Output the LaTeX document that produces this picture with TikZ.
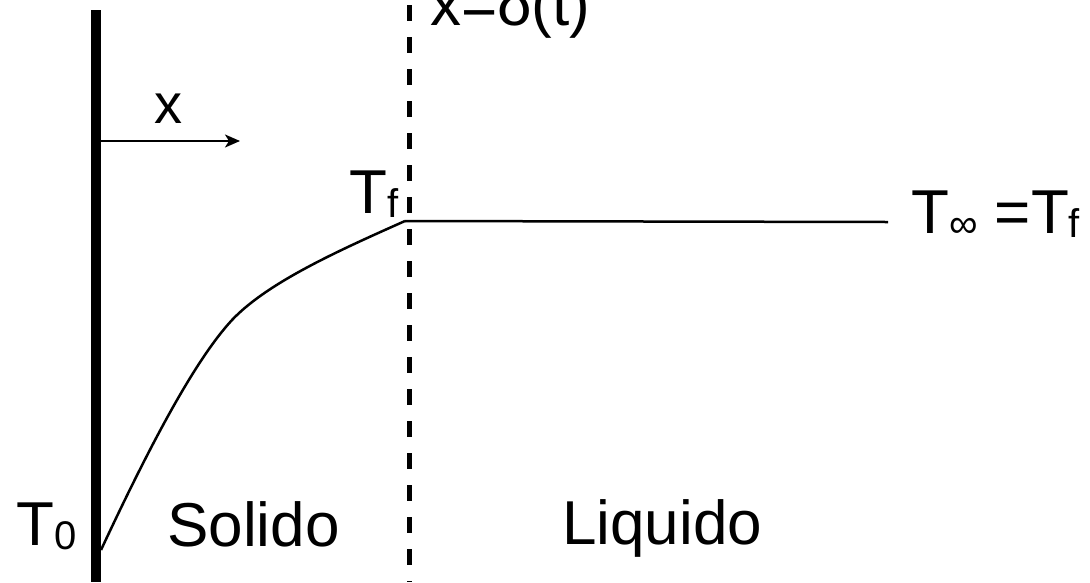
\documentclass[tikz,border=0pt]{standalone}
\usepackage{fontspec}
\setmainfont{Liberation Sans}
\usetikzlibrary{arrows.meta}
\newcommand\lowsub[1]{\raisebox{-4pt}{\fontsize{40}{40}\selectfont #1}}
\tikzset{
  lbl/.style={anchor=base west, inner sep=0pt, font=\fontsize{62}{70}\selectfont},
  wallline/.style={line width=10pt},
  frontline/.style={line width=5pt, dash pattern=on 16pt off 16pt},
  profile/.style={line width=2.5pt, line join=round},
  axisarrow/.style={line width=2pt, -{Stealth[length=15pt, width=13pt, inset=4pt]}}
}
\begin{document}
\begin{tikzpicture}[x=1pt, y=-1pt]
\useasboundingbox (0,0) rectangle (1090,582);
% coordinates
\coordinate (wtop) at (96,10);
\coordinate (wbot) at (96,582);
\coordinate (ftop) at (409,5);
\coordinate (fbot) at (409,582);
\coordinate (p0) at (101,550);
\coordinate (pk) at (232,320);
\coordinate (pf) at (405,221);
\coordinate (pe) at (888,222);
\coordinate (as) at (101,141);
\coordinate (ae) at (240,141);
% wall and front
\draw[wallline] (wtop) -- (wbot);
\draw[frontline] (ftop) -- (fbot);
% temperature profile
\draw[profile] (p0) .. controls (150,445) and (195,360) .. (pk)
               .. controls (268,282) and (340,250) .. (pf);
\draw[profile] (pf) -- (pe);
% x axis arrow
\draw[axisarrow] (as) -- (ae);
% labels
\node[lbl] (front) at (430,25) {x=δ(t)};
\node[lbl, font=\fontsize{56}{60}\selectfont] (xl) at (154,123) {x};
\node[lbl] (tf) at (349,213) {T\lowsub{f}};
\node[lbl] (tinf) at (911,233) {T\lowsub{∞} =T\lowsub{f}};
\node[lbl] (t0) at (16,545) {T\lowsub{0}};
\node[lbl] (sol) at (167,546) {Solido};
\node[lbl] (liq) at (562,544) {Liquido};
\end{tikzpicture}
\end{document}
